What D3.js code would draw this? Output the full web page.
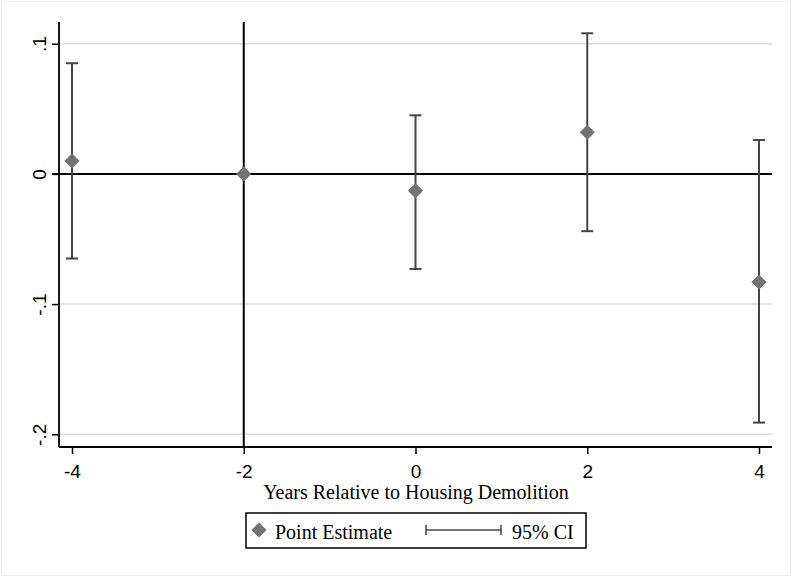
<!DOCTYPE html>
<html>
<head>
<meta charset="utf-8">
<script src="https://cdn.jsdelivr.net/npm/d3@7"></script>
<style>
    body { margin: 0; background: #fff; }
    .serif { font-family: "Liberation Serif", "Times New Roman", serif; fill: #000; }
</style>
</head>
<body>
<div id="chart"></div>
<script>
// data
const years = [-4, -2, 0, 2, 4];
const estimates = [0.010, 0.000, -0.013, 0.032, -0.083];
const ciLower = [-0.065, 0.000, -0.073, -0.044, -0.191];
const ciUpper = [0.085, 0.000, 0.045, 0.108, 0.026];
const xTicks = [-4, -2, 0, 2, 4];
const yTicks = [-0.2, -0.1, 0, 0.1];
const yTickLabels = ['-.2', '-.1', '0', '.1'];

const config = {
    width: 794,
    height: 578,
    left: 59,
    right: 772,
    top: 22,
    bottom: 447,
    tickFont: '"Liberation Sans", Arial, sans-serif',
    tickFontSize: '19px',
};

const svg = d3.select('#chart')
    .append('svg')
    .attr('width', config.width)
    .attr('height', config.height)
;

// faint outer frame
svg.append('rect')
    .attr('x', 1.5)
    .attr('y', 1.5)
    .attr('width', config.width - 5)
    .attr('height', config.height - 4)
    .attr('fill', '#fff')
    .attr('stroke', '#eeeeee')
;

const xScale = d3.scaleLinear()
    .domain([-4, 4])
    .range([72, 759])
;

const yScale = d3.scaleLinear()
    .domain([-0.2, 0.1])
    .range([434.3, 43.7])
;

// gridlines
svg.selectAll('.grid')
    .data(yTicks.filter(d => d !== 0))
    .enter()
    .append('line')
    .attr('class', 'grid')
    .attr('x1', config.left)
    .attr('x2', config.right)
    .attr('y1', d => yScale(d))
    .attr('y2', d => yScale(d))
    .attr('stroke', '#dcdcdc')
    .attr('stroke-width', 1.5)
;

// y axis
const yAxis = d3.axisLeft(yScale)
    .tickValues(yTicks)
    .tickSize(7)
    .tickFormat((d, i) => yTickLabels[i])
;
const yAxisG = svg.append('g')
    .attr('transform', `translate(${config.left},0)`)
    .call(yAxis)
    .attr('font-family', config.tickFont)
    .attr('font-size', config.tickFontSize)
;
yAxisG.select('.domain').remove();
yAxisG.selectAll('.tick line').attr('stroke', '#000').attr('stroke-width', 1.5);
yAxisG.selectAll('.tick text')
    .style('font-size', config.tickFontSize)
    .attr('fill', '#000')
    .attr('x', 0)
    .attr('y', 0)
    .attr('dy', null)
    .attr('text-anchor', 'middle')
    .attr('transform', 'translate(-13,0) rotate(-90)')
;
svg.append('line')
    .attr('x1', config.left).attr('x2', config.left)
    .attr('y1', config.top).attr('y2', config.bottom)
    .attr('stroke', '#000').attr('stroke-width', 1.8)
;

// x axis
const xAxis = d3.axisBottom(xScale)
    .tickValues(xTicks)
    .tickSize(7)
    .tickFormat(d => d < 0 ? '-' + Math.abs(d) : d)
;
const xAxisG = svg.append('g')
    .attr('transform', `translate(0,${config.bottom})`)
    .call(xAxis)
    .attr('font-family', config.tickFont)
    .attr('font-size', config.tickFontSize)
;
xAxisG.select('.domain').remove();
xAxisG.selectAll('.tick line').attr('stroke', '#000').attr('stroke-width', 1.5);
xAxisG.selectAll('.tick text')
    .style('font-size', config.tickFontSize)
    .attr('fill', '#000')
    .attr('y', 25)
    .attr('dy', '0.34em')
;
svg.append('line')
    .attr('x1', config.left).attr('x2', config.right)
    .attr('y1', config.bottom).attr('y2', config.bottom)
    .attr('stroke', '#000').attr('stroke-width', 1.8)
;

// reference lines
svg.append('line')
    .attr('x1', config.left - 7).attr('x2', config.right)
    .attr('y1', yScale(0)).attr('y2', yScale(0))
    .attr('stroke', '#000').attr('stroke-width', 2)
;
svg.append('line')
    .attr('x1', xScale(-2)).attr('x2', xScale(-2))
    .attr('y1', config.top).attr('y2', config.bottom)
    .attr('stroke', '#000').attr('stroke-width', 2)
;

// confidence intervals
const ci = svg.append('g')
    .selectAll('g')
    .data(years.map((y, i) => ({ x: y, lo: ciLower[i], hi: ciUpper[i] })).filter(d => d.hi !== d.lo))
    .enter()
    .append('g')
    .attr('stroke', '#444')
    .attr('stroke-width', 2)
;
ci.append('line')
    .attr('x1', d => xScale(d.x)).attr('x2', d => xScale(d.x))
    .attr('y1', d => yScale(d.lo)).attr('y2', d => yScale(d.hi))
;
ci.append('line')
    .attr('x1', d => xScale(d.x) - 6).attr('x2', d => xScale(d.x) + 6)
    .attr('y1', d => yScale(d.lo)).attr('y2', d => yScale(d.lo))
;
ci.append('line')
    .attr('x1', d => xScale(d.x) - 6).attr('x2', d => xScale(d.x) + 6)
    .attr('y1', d => yScale(d.hi)).attr('y2', d => yScale(d.hi))
;

// point estimates
const diamond = d3.symbol().type(d3.symbolSquare).size(115);
svg.selectAll('.pt')
    .data(years.map((y, i) => ({ x: y, v: estimates[i] })))
    .enter()
    .append('path')
    .attr('class', 'pt')
    .attr('d', diamond)
    .attr('transform', d => `translate(${xScale(d.x)},${yScale(d.v)}) rotate(45)`)
    .attr('fill', '#737373')
;

// x title
svg.append('text')
    .attr('class', 'serif')
    .attr('x', 416)
    .attr('y', 499)
    .attr('text-anchor', 'middle')
    .attr('font-size', '20px')
    .text('Years Relative to Housing Demolition')
;

// legend
const legend = svg.append('g');
legend.append('rect')
    .attr('x', 246).attr('y', 513)
    .attr('width', 340).attr('height', 35)
    .attr('fill', '#fff')
    .attr('stroke', '#000')
    .attr('stroke-width', 1.5)
;
legend.append('path')
    .attr('d', diamond)
    .attr('transform', 'translate(259,530) rotate(45)')
    .attr('fill', '#737373')
;
legend.append('text')
    .attr('class', 'serif')
    .attr('x', 275).attr('y', 539)
    .attr('font-size', '20px')
    .text('Point Estimate')
;
legend.append('line')
    .attr('x1', 426).attr('x2', 501)
    .attr('y1', 530).attr('y2', 530)
    .attr('stroke', '#444').attr('stroke-width', 1.5)
;
[426, 501].forEach(x => {
    legend.append('line')
        .attr('x1', x).attr('x2', x)
        .attr('y1', 525).attr('y2', 535)
        .attr('stroke', '#444').attr('stroke-width', 1.5)
    ;
});
legend.append('text')
    .attr('class', 'serif')
    .attr('x', 512).attr('y', 539)
    .attr('font-size', '20px')
    .text('95% CI')
;
</script>
</body>
</html>
